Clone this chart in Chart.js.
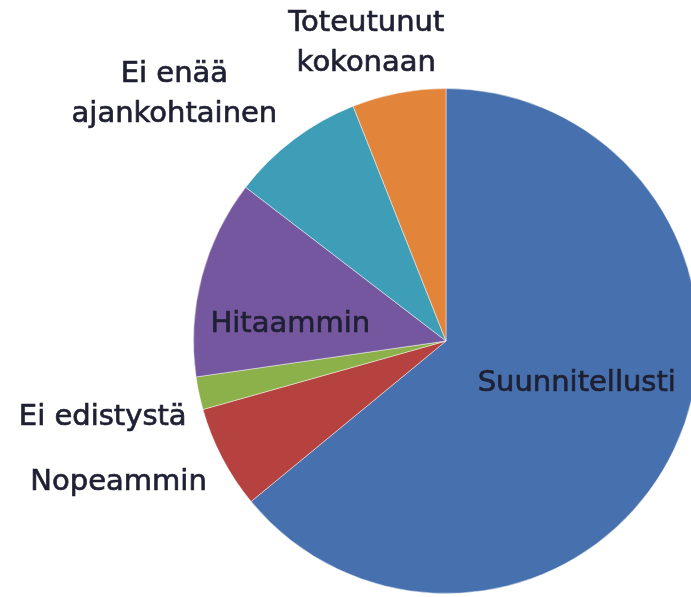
<!DOCTYPE html>
<html>
<head>
<meta charset="utf-8">
<script src="https://cdn.jsdelivr.net/npm/chart.js@4.4.1/dist/chart.umd.min.js"></script>
<style>
    html, body { margin: 0; padding: 0; overflow: hidden; background: #fff; }
    #wrap { width: 720px; height: 597px; }
</style>
</head>
<body>
<div id="wrap"><canvas id="chart"></canvas></div>
<script>
const categories = ['Suunnitellusti', 'Nopeammin', 'Ei edistystä', 'Hitaammin', 'Ei enää ajankohtainen', 'Toteutunut kokonaan']
const labelLines = [['Suunnitellusti'], ['Nopeammin'], ['Ei edistystä'], ['Hitaammin'], ['Ei enää', 'ajankohtainen'], ['Toteutunut', 'kokonaan']]
const shares = [64.1, 6.6, 2.1, 12.7, 8.6, 6.0]
const colors = ['#4771AE', '#B5423F', '#8CB04A', '#7557A0', '#3E9EB8', '#E2853A']

// where each label sits: angle clockwise from 12 o'clock, distance as share of the radius
const labelAngles = [107.8, 246.6, 257.4, 276.2, 312.2, 345]
const labelRadii = [0.544, 1.413, 1.393, 0.62, 1.452, 1.22]

const sliceLabels = {
    id: 'sliceLabels',
    afterDatasetsDraw(chart) {
        const arc = chart.getDatasetMeta(0).data[0]
        const cx = arc.x
        const cy = arc.y
        const R = arc.outerRadius
        const ctx = chart.ctx
        ctx.save()
        ctx.font = '29px "DejaVu Sans"'
        ctx.fillStyle = '#1f2033'
        ctx.strokeStyle = '#1f2033'
        ctx.lineWidth = 0.7
        ctx.textAlign = 'center'
        ctx.textBaseline = 'middle'
        labelLines.forEach((lines, i) => {
            const a = labelAngles[i] * Math.PI / 180
            const x = cx + labelRadii[i] * R * Math.sin(a)
            const y = cy - labelRadii[i] * R * Math.cos(a)
            const step = 40
            lines.forEach((line, j) => {
                const ly = y + (j - (lines.length - 1) / 2) * step
                ctx.fillText(line, x, ly)
                ctx.strokeText(line, x, ly)
            })
        })
        ctx.restore()
    }
}

new Chart(document.getElementById('chart'), {
    type: 'pie',
    data: {
        labels: categories,
        datasets: [{
            data: shares,
            backgroundColor: colors,
            borderColor: 'rgba(255,255,255,0.45)',
            borderWidth: 1
        }]
    },
    options: {
        responsive: true,
        maintainAspectRatio: false,
        animation: false,
        events: [],
        layout: { padding: { left: 193, right: 21, top: 88, bottom: 3 } },
        plugins: {
            legend: { display: false },
            tooltip: { enabled: false }
        }
    },
    plugins: [sliceLabels]
})
</script>
</body>
</html>
